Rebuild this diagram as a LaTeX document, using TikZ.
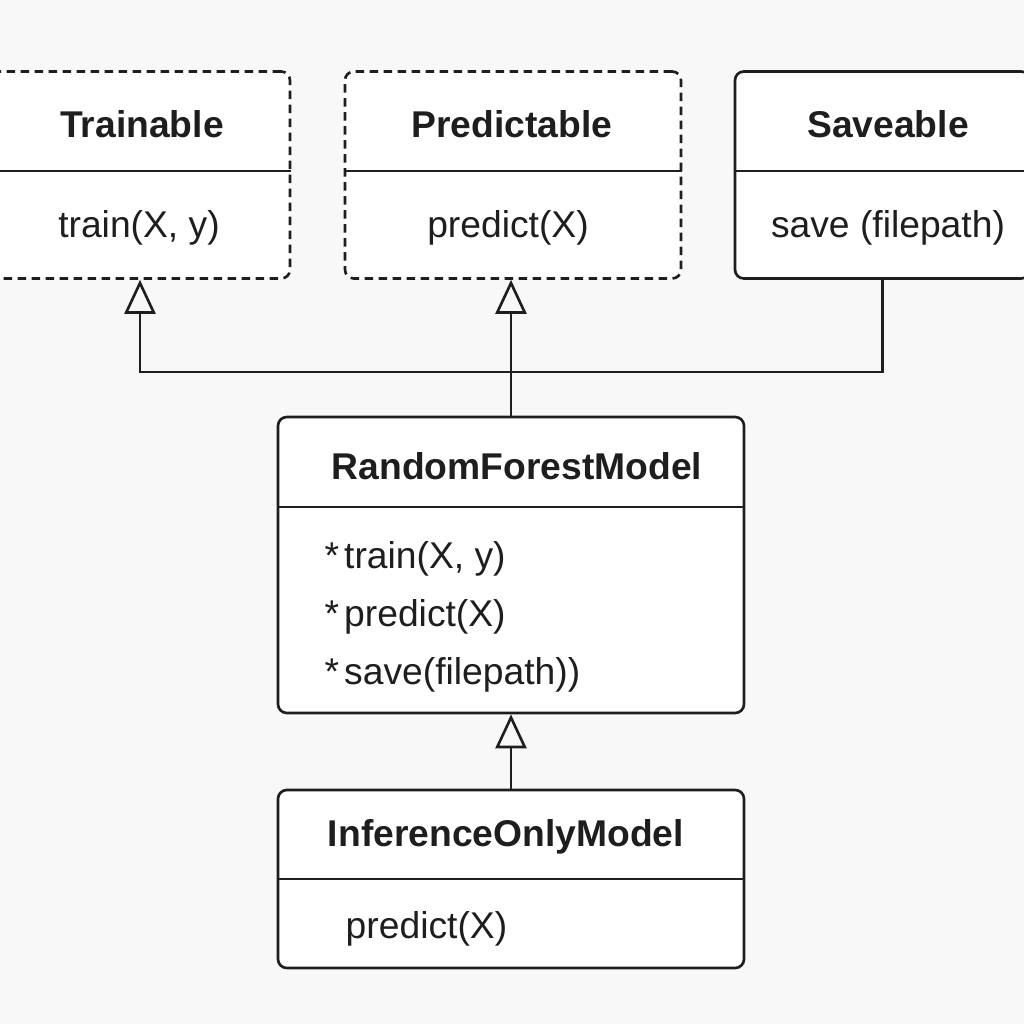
\documentclass[tikz,border=0pt]{standalone}
\usepackage{fontspec}
\setmainfont{Liberation Sans}
\usetikzlibrary{arrows.meta,positioning,calc}
\definecolor{bg}{RGB}{248,248,248}
\definecolor{ink}{RGB}{30,30,30}

\begin{document}
\begin{tikzpicture}[
    x=0.1mm, y=-0.1mm,
    classbox/.style={draw=ink, line width=0.75pt, rounded corners=2.5pt, fill=white, inner sep=0pt},
    iface/.style={classbox, dash pattern=on 0.85mm off 0.55mm},
    divider/.style={draw=ink, line width=0.75pt},
    title/.style={inner sep=0pt, text=ink, font=\bfseries\fontsize{10.6}{12}\selectfont},
    method/.style={inner sep=0pt, text=ink, font=\fontsize{10.6}{12}\selectfont},
    realize/.style={draw=ink, line width=0.75pt, -{Triangle[open, length=3.4mm, width=3.1mm, line width=0.75pt]}},
    link/.style={draw=ink, line width=0.75pt}
]
    % Page and background
    \useasboundingbox (0,0) rectangle (1024,1024);
    \fill[bg] (0,0) rectangle (1024,1024);
    \clip (0,0) rectangle (1024,1024);

    % Interfaces
    \node[iface, minimum width=30mm, minimum height=20.7mm] (trainable) at (140,175) {};
    \node[iface, minimum width=33.6mm, minimum height=20.7mm] (predictable) at (513,175) {};
    \node[classbox, minimum width=29.5mm, minimum height=20.7mm] (saveable) at (882.5,175) {};
    \foreach \cls in {trainable, predictable, saveable} {
        \draw[divider] (\cls.west |- 0,171) -- (\cls.east |- 0,171);
    }
    \node[title] (trainabletitle) at (142,124) {Trainable};
    \node[title] (predictabletitle) at (512,124) {Predictable};
    \node[title] (saveabletitle) at (888,124) {Saveable};
    \node[method] (trainablem) at (139,228) {train(X, y)};
    \node[method] (predictablem) at (508,228) {predict(X)};
    \node[method] (saveablem) at (888,228) {save (filepath)};

    % Concrete model
    \node[classbox, minimum width=46.6mm, minimum height=29.6mm] (rfmodel) at (511,565) {};
    \draw[divider] (rfmodel.west |- 0,507) -- (rfmodel.east |- 0,507);
    \node[title] (rftitle) at (517,466) {RandomForestModel};
    \foreach \i/\m in {1/{train(X, y)}, 2/{predict(X)}, 3/{save(filepath))}} {
        \node[method, anchor=west] (rfm\i) at (324,501+58*\i) {*\kern0.5mm\m};
    }

    % Subclass
    \node[classbox, minimum width=46.6mm, minimum height=17.8mm] (infermodel) at (511,879) {};
    \draw[divider] (infermodel.west |- 0,879) -- (infermodel.east |- 0,879);
    \node[title] (infertitle) at (506,837) {InferenceOnlyModel};
    \node[method, anchor=west] (inferm) at (345,929) {predict(X)};

    % Connectors
    \coordinate (junc) at (rfmodel.north |- 0,372);
    \draw[realize] (junc) -| (trainable.south);
    \draw[realize] (rfmodel.north) -- (predictable.south -| rfmodel.north);
    \draw[link] (junc) -| (saveable.south);
    \draw[realize] (infermodel.north) -- (rfmodel.south);
\end{tikzpicture}
\end{document}
